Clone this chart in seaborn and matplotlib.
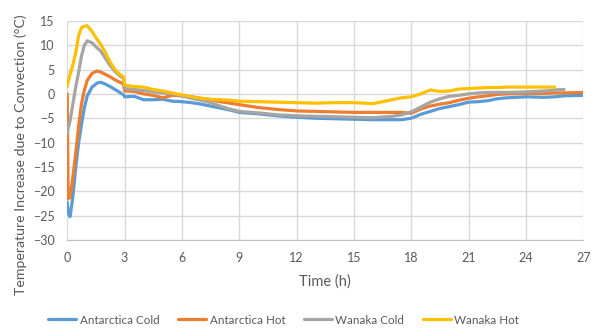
import numpy as np
import pandas as pd
import matplotlib
matplotlib.use("Agg")
import matplotlib.pyplot as plt
import seaborn as sns

# Time after start (hours) and temperature rise due to convection (°C)
hours = [0, 0.05, 0.15, 0.3, 0.45, 0.6, 0.75, 0.9, 1.05, 1.3, 1.55, 1.75, 2.0,
         2.25, 2.5, 2.75, 2.95, 3.0, 3.5, 4.0, 4.5, 5.0, 5.5, 6.0, 6.5, 7.0,
         7.5, 8.0, 8.5, 9.0, 10, 11, 12, 13, 14, 15, 16, 17, 17.5, 18, 18.5,
         19, 19.5, 20, 20.5, 21, 21.5, 22, 22.5, 23, 24, 25, 25.5, 26, 27]

antarctica_cold = [-22.2, -24.5, -25.2, -21.0, -15.0, -10.0, -6.2, -2.8, -0.4,
                   1.4, 2.2, 2.4, 2.0, 1.5, 0.9, 0.3, -0.2, -0.6, -0.5, -1.2,
                   -1.2, -1.1, -1.5, -1.6, -1.8, -2.1, -2.5, -2.9, -3.3, -3.8,
                   -4.1, -4.5, -4.8, -5.0, -5.1, -5.2, -5.3, -5.3, -5.3, -5.0,
                   -4.2, -3.6, -3.0, -2.6, -2.2, -1.7, -1.6, -1.4, -1.0, -0.8,
                   -0.6, -0.7, -0.6, -0.4, -0.3]

antarctica_hot = [0.0, -21.5, -21.3, -17.0, -12.0, -6.5, -2.0, 0.8, 2.8, 4.2,
                  4.7, 4.5, 4.0, 3.5, 2.9, 2.4, 2.0, 0.6, 0.5, 0.0, -0.3, -0.8,
                  -0.3, -0.4, -0.6, -0.9, -1.2, -1.6, -1.9, -2.2, -2.8, -3.2,
                  -3.5, -3.6, -3.7, -3.8, -3.8, -3.8, -3.8, -4.0, -3.1, -2.5,
                  -2.1, -1.8, -1.3, -0.9, -0.6, -0.4, -0.1, 0.0, 0.1, 0.1, 0.2,
                  0.2, 0.3]

wanaka_cold = [-8.1, -7.0, -5.5, -2.0, 1.5, 4.5, 7.8, 10.0, 10.9, 10.5, 9.5,
               8.8, 7.3, 5.8, 4.6, 3.7, 3.2, 1.1, 0.9, 0.7, 0.4, 0.2, 0.0, -0.4,
               -0.9, -1.3, -1.8, -2.5, -3.1, -3.6, -3.9, -4.3, -4.5, -4.6, -4.7,
               -4.8, -4.9, -4.6, -4.3, -3.7, -2.7, -1.7, -1.0, -0.5, -0.3, 0.0,
               0.2, 0.3, 0.3, 0.3, 0.4, 0.6, 0.8, 0.9, None]

wanaka_hot = [1.5, 2.5, 4.0, 6.0, 8.5, 12.0, 13.6, 13.9, 14.0, 12.8, 11.3,
              10.2, 8.5, 6.5, 5.0, 4.0, 3.5, 1.8, 1.5, 1.4, 0.9, 0.6, 0.2, -0.2,
              -0.6, -0.9, -1.1, -1.2, -1.3, -1.5, -1.6, -1.7, -1.8, -1.9, -1.8,
              -1.8, -2.0, -1.2, -0.8, -0.6, 0.0, 0.8, 0.5, 0.6, 1.0, 1.1, 1.2,
              1.3, 1.3, 1.4, 1.4, 1.4, 1.4, None, None]

series_names = ["Antarctica Cold", "Antarctica Hot", "Wanaka Cold", "Wanaka Hot"]
series_colors = ["#5B9BD5", "#ED7D31", "#A5A5A5", "#FFC000"]
x_ticks = [0, 3, 6, 9, 12, 15, 18, 21, 24, 27]
y_ticks = [15, 10, 5, 0, -5, -10, -15, -20, -25, -30]

frames = []
for name, vals in zip(series_names,
                      [antarctica_cold, antarctica_hot, wanaka_cold, wanaka_hot]):
    frames.append(pd.DataFrame({"Time": hours,
                                "Value": pd.to_numeric(pd.Series(vals), errors="coerce"),
                                "Series": name}))
df = pd.concat(frames, ignore_index=True).dropna()

sns.set_style("white")
plt.rcParams["font.family"] = ["Lato", "DejaVu Sans"]

fig = plt.figure(figsize=(6.0, 3.31), dpi=100)
ax = fig.add_axes([0.112, 0.275, 0.860, 0.662])

sns.lineplot(data=df, x="Time", y="Value", hue="Series", hue_order=series_names,
             palette=series_colors, linewidth=2.3, ax=ax, sort=False,
             estimator=None, legend=False)

ax.set_xlim(0, 27)
ax.set_ylim(-30, 15)
ax.set_xticks(x_ticks)
ax.set_yticks(y_ticks)
ax.grid(True, color="#D9D9D9", linewidth=1.0)
ax.set_axisbelow(True)
for side in ["top", "right", "left"]:
    ax.spines[side].set_visible(False)
ax.spines["bottom"].set_color("#BFBFBF")
ax.tick_params(axis="both", length=0, labelsize=9, colors="#595959", pad=9)

ax.set_xlabel("Time (h)", fontsize=10.5, color="#595959", labelpad=7)
ax.set_ylabel("Temperature Increase due to Convection (°C)", fontsize=10.2,
              color="#595959")
ax.yaxis.set_label_coords(-0.077, 0.39)

handles = [plt.Line2D([], [], color=c, linewidth=2.3) for c in series_colors]
fig.legend(handles, series_names, loc="center", ncol=4,
           bbox_to_anchor=(0.473, 0.033), frameon=False, fontsize=8.4,
           labelcolor="#595959", handlelength=2.4, handletextpad=0.3,
           columnspacing=1.6)

fig.savefig("out.png", dpi=100)
